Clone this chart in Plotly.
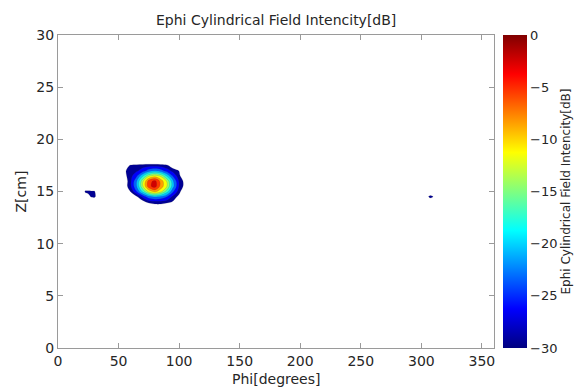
import numpy as np
import plotly.graph_objects as go

# ---------------- text / ticks ----------------
title_text = "Ephi Cylindrical Field Intencity[dB]"
x_label = "Phi[degrees]"
y_label = "Z[cm]"
x_ticks = [0, 50, 100, 150, 200, 250, 300, 350]
y_ticks = [0, 5, 10, 15, 20, 25, 30]
cb_ticks = [-30, -25, -20, -15, -10, -5, 0]
floor_db = -40.0   # field level outside the blobs (below the -30 dB floor)

# ---------------- data (dB values) ----------------
# main blob around Phi ~80 deg, Z ~15.8 cm
z_rows = [13.0, 13.5, 14.0, 14.5, 15.0, 15.5, 16.0, 16.5, 17.0, 17.5, 18.0, 18.5]
phi_main = [50, 55, 60, 65, 70, 75, 80, 85, 90, 95, 100, 105, 110]
main_blob = [
    [-40, -40, -40, -40, -40, -40, -40, -40, -40, -40, -40, -40, -40],      # 13.0
    [-40, -40, -40, -40, -39, -36, -33, -33, -36, -40, -40, -40, -40],      # 13.5
    [-40, -40, -40, -36, -31.5, -28.5, -28, -28, -28.5, -30.5, -39, -40, -40],  # 14.0
    [-40, -40, -38, -30.5, -26, -22, -20.5, -21.5, -24, -27.8, -31.3, -40, -40],  # 14.5
    [-40, -39, -29.5, -24, -17, -11, -8, -11, -16.5, -23.5, -28.5, -35, -40],  # 15.0
    [-40, -32.3, -27.4, -21, -12.3, -4, -1.5, -7.2, -12, -20, -27.2, -31.5, -40],  # 15.5
    [-40, -32.5, -27.5, -21.2, -12.8, -4.5, -2, -7.2, -12.5, -20.5, -27.4, -31.5, -40],  # 16.0
    [-40, -31, -28, -24.5, -18.5, -12.8, -10.5, -12.8, -18.6, -24.6, -28.8, -35.8, -40],  # 16.5
    [-40, -30.5, -28.5, -27.5, -25.6, -22.7, -21.3, -22.7, -25.6, -28, -30.2, -40, -40],  # 17.0
    [-40, -34, -29, -28.5, -28.2, -28, -28, -28.3, -29.2, -33, -40, -40, -40],  # 17.5
    [-40, -40, -40, -39, -37.5, -37, -37, -37.5, -38.5, -40, -40, -40, -40],  # 18.0
    [-40, -40, -40, -40, -40, -40, -40, -40, -40, -40, -40, -40, -40],      # 18.5
]

# small blob near Phi ~27 deg
phi_left = [20, 22.5, 25, 27.5, 30, 32.5, 35]
z_left = [14.0, 14.5, 15.0, 15.5]
left_blob = [
    [-40, -40, -40, -40, -40, -40, -40],
    [-40, -36, -32, -29.5, -28.5, -33, -40],
    [-40, -28.5, -28.5, -29, -29, -35, -40],
    [-40, -40, -40, -40, -40, -40, -40],
]

# tiny blob near Phi ~307 deg
phi_right = [302.5, 305, 307.5, 310, 312.5]
z_right = [14.0, 14.5, 15.0]
right_blob = [
    [-40, -40, -40, -40, -40],
    [-40, -32, -27, -30.5, -40],
    [-40, -40, -40, -40, -40],
]

# ---------------- assemble grid ----------------
phi_all = sorted(set([0.0, 360.0] + [float(p) for p in phi_main + phi_left + phi_right]))
z_all = sorted(set([0.0, 30.0] + z_rows + z_left + z_right))
field = np.full((len(z_all), len(phi_all)), floor_db)


def place(phis, zs, block):
    for i, zz in enumerate(zs):
        for j, pp in enumerate(phis):
            field[z_all.index(zz), phi_all.index(float(pp))] = block[i][j]


place(phi_main, z_rows, main_blob)
place(phi_left, z_left, left_blob)
place(phi_right, z_right, right_blob)


# ---------------- colours ----------------
def jet(x):
    r = min(max(min(4 * x - 1.5, -4 * x + 4.5), 0), 1)
    g = min(max(min(4 * x - 0.5, -4 * x + 3.5), 0), 1)
    b = min(max(min(4 * x + 0.5, -4 * x + 2.5), 0), 1)
    return "rgb(%d,%d,%d)" % (round(r * 255), round(g * 255), round(b * 255))


# filled bands: below -30 -> white; band [L, L+3] -> jet near L
contour_cs = [[0.0, "white"]] + [[round(0.1 * k, 4), jet(0.1 * (k - 1) + 0.02)] for k in range(1, 11)]
contour_cs[-1][0] = 1.0
jet_cs = [[s, jet(s)] for s in [0, 0.125, 0.375, 0.625, 0.875, 1.0]]

font_family = "DejaVu Sans, Noto Sans, sans-serif"
text_col = "#262626"

# plot area in pixels
L, R, T, B = 58, 494, 35, 348
pw, ph = R - L, B - T

fig = go.Figure()
fig.add_trace(go.Contour(
    x=phi_all, y=z_all, z=field,
    autocontour=False,
    contours=dict(start=-30, end=-3, size=3, coloring="fill", showlines=True),
    line=dict(width=0.4, color="rgba(60,60,60,0.4)", smoothing=1.0),
    colorscale=contour_cs, showscale=False, hoverinfo="skip",
))
# colour bar (continuous jet, like the original)
fig.add_trace(go.Scatter(
    x=[-100], y=[-100], mode="markers", showlegend=False, hoverinfo="skip",
    marker=dict(size=1, color=[-30], cmin=-30, cmax=0, colorscale=jet_cs, showscale=True,
                colorbar=dict(x=(503 - L) / pw, xanchor="left", xpad=0, ypad=0,
                              y=0.5, yanchor="middle", len=1, lenmode="fraction",
                              thickness=24, thicknessmode="pixels", outlinewidth=0,
                              tickvals=cb_ticks, ticks="",
                              tickfont=dict(size=13, color=text_col, family=font_family))),
))

axis_common = dict(showgrid=False, zeroline=False, showline=True, linecolor="#9a9a9a", linewidth=1,
                   mirror="ticks", ticks="inside", ticklen=5, tickcolor="#9a9a9a", automargin=False,
                   tickfont=dict(size=14, color=text_col, family=font_family))
fig.update_xaxes(range=[0, 360], tickvals=x_ticks, **axis_common)
fig.update_yaxes(range=[0, 30], tickvals=y_ticks, **axis_common)

ann_font = dict(size=14, color=text_col, family=font_family)
fig.add_annotation(text=x_label, xref="paper", yref="paper", x=0.5, y=-(379 - B) / ph,
                   xanchor="center", yanchor="middle", showarrow=False, font=ann_font)
fig.add_annotation(text=y_label, xref="paper", yref="paper", x=-(L - 20) / pw, y=0.5,
                   xanchor="center", yanchor="middle", textangle=-90, showarrow=False, font=ann_font)
fig.add_annotation(text=title_text, xref="paper", yref="paper", x=(565 - L) / pw, y=0.5,
                   xanchor="center", yanchor="middle", textangle=-90, showarrow=False,
                   font=dict(size=12, color=text_col, family=font_family))
fig.add_annotation(text=title_text, xref="paper", yref="paper", x=0.5, y=1 + (T - 20) / ph,
                   xanchor="center", yanchor="middle", showarrow=False, font=ann_font)

fig.update_layout(
    width=574, height=390,
    margin=dict(l=L, r=574 - R, t=T, b=390 - B, autoexpand=False),
    paper_bgcolor="white", plot_bgcolor="white",
    font=dict(family=font_family, color=text_col),
)

fig.write_html("out.html", config={"displayModeBar": False},
               post_script="document.body.style.margin='0px';document.body.style.overflow='hidden';")
